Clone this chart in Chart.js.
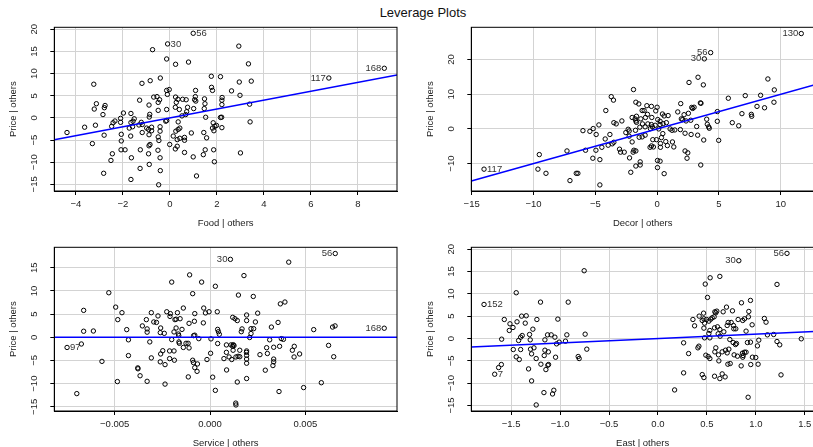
<!DOCTYPE html>
<html>
<head>
<meta charset="utf-8">
<script src="https://cdn.jsdelivr.net/npm/chart.js@4.4.0/dist/chart.umd.min.js"></script>
<style>
html, body { margin: 0; padding: 0; background: #fff; overflow: hidden; width: 813px; height: 447px; }
#title { position: absolute; left: 0; top: 5px; width: 846px; text-align: center;
  font: 13px "Liberation Sans", Arial, sans-serif; line-height: 16px; color: #111; }
canvas { position: absolute; }
</style>
</head>
<body>
<div id="title">Leverage Plots</div>
<canvas id="food" width="416" height="233" style="left:0;top:0"></canvas>
<canvas id="decor" width="416" height="233" style="left:417px;top:0"></canvas>
<canvas id="service" width="416" height="233" style="left:0;top:220px"></canvas>
<canvas id="east" width="416" height="233" style="left:417px;top:220px"></canvas>
<script>
// Food | others vs Price | others
const foodX = [-0.74,2.93,-0.14,0.79,0.24,3.34,-3.24,-1.19,-0.84,-0.41,
  1.76,2.15,2.95,3.46,1.77,1.81,2.62,1.09,-0.14,-0.03,
  -0.11,2.98,-0.69,-0.55,-1.29,-0.44,0.24,0.54,0.69,1.08,
  1.05,1.1,1.47,2.22,2.21,-3.13,-2.76,-2.79,-3.22,-2.85,
  -0.5,-0.89,-0.5,-0.14,0.27,0.34,0.23,0.4,0.75,1.01,
  1.49,1.46,2.21,3.39,0.51,0.67,0.71,1.52,2.15,2.2,
  -1.98,-1.66,-2.1,-1.52,-0.88,-0.86,-2.34,-2.42,-2.1,-1.66,
  -1.57,-1.22,-1.18,-1.32,-3.63,-3.17,-2.48,-1.73,-1.59,-0.99,
  -0.91,-0.78,-0.42,-0.18,-0.14,0.35,0.42,0.35,0.25,-0.42,
  -0.78,-4.38,-2.8,-2.07,-1.67,-1.18,-0.89,-0.5,-0.47,0.14,
  0.31,0.42,0.62,0.62,0.91,1.44,1.56,1.84,1.91,1.81,
  1.98,1.87,2.21,3.41,-3.3,-2.07,-0.01,-0.85,-0.89,-2.45,
  -2.08,-1.91,-1.26,-0.51,-0.91,-0.42,-1.64,-2.51,0.23,0.31,
  0.62,0.99,1.5,1.86,1.42,1.89,3.0,-0.88,-2.82,-1.27,
  -0.41,1.13,-1.66,-0.48];
const foodPrice = [15.4,16.2,13.3,12.6,12.1,12.2,7.6,7.8,8.4,9.0,
  9.4,9.3,8.1,8.3,6.9,6.2,6.1,6.2,6.2,6.4,
  5.3,5.1,4.7,4.8,4.0,4.1,4.7,4.2,4.1,4.8,
  4.1,3.8,4.3,4.6,4.0,3.2,2.8,2.3,2.0,0.75,
  3.5,2.9,1.7,1.9,3.5,4.2,2.4,1.9,2.4,2.1,
  3.2,2.1,3.0,3.1,0.45,0.75,1.4,0.15,0.1,0.15,
  1.1,1.0,-0.1,-0.2,0.2,0.8,-0.7,-1.1,-1.0,-1.05,
  -0.75,-1.0,-1.5,-1.6,-2.1,-1.65,-1.9,-2.3,-2.0,-2.3,
  -2.6,-2.1,-2.0,-0.75,-0.6,-0.9,-2.3,-2.6,-3.0,-3.0,
  -2.9,-3.3,-3.9,-3.7,-4.1,-3.3,-3.8,-4.3,-5.1,-4.1,
  -4.9,-4.6,-4.4,-5.05,-3.4,-3.3,-4.5,-1.1,-1.9,-2.3,
  -1.7,-2.9,-2.2,-0.9,-5.8,-5.2,-6.0,-6.0,-6.3,-8.1,
  -7.2,-7.2,-7.2,-7.3,-8.1,-9.0,-9.0,-9.6,-7.0,-6.4,
  -7.8,-8.8,-7.2,-7.2,-8.3,-9.9,-7.9,-10.5,-12.5,-11.4,
  -11.9,-13.1,-13.9,-15.1];
const foodIds = ['56','30','168','117'];
const foodIdX = [0.99,-0.1,9.12,6.76];
const foodIdPrice = [19.1,16.7,11.2,9.0];

// Decor | others
const decorX = [8.96,3.31,2.58,3.74,9.48,-1.91,5.76,7.13,8.37,9.45,
  8.08,8.69,-3.71,-3.53,-1.72,-1.48,1.91,2.8,2.99,2.88,
  3.5,3.55,4.87,-0.83,-0.46,0,-0.11,-4.15,-1.21,-1.05,
  1.67,2.18,2.53,0.43,0.57,0.89,-0.78,-0.43,-1.67,-2.02,
  -1.78,-1.32,-0.94,-2.85,-1.72,-1.67,0.05,0.24,1.96,2.07,
  2.34,2.72,4.01,4.87,6.08,6.86,7.62,7.65,6.6,-3.5,
  -3.31,-4.71,-1.18,-0.75,-0.46,-0.16,0.24,0.75,0.48,4.06,
  4.17,4.22,3.2,-6.0,-5.44,-5.17,-4.93,-3.82,-1.4,-0.97,
  -0.54,-0.38,0.13,-2.34,-2.26,-2.53,-1.75,1.21,1.43,1.88,
  1.05,2.26,2.75,3.28,-4.2,-4.47,-3.96,-3.63,-3.5,-2.26,
  -2.02,-1.45,-1.21,-0.97,-0.35,-0.05,0.35,0.46,0.7,1.24,
  0.27,0.83,0.27,-0.46,-0.57,-0.3,1.35,3.77,4.98,-9.53,
  -7.29,-5.79,-4.95,-3.04,-2.96,-2.66,-1.88,-1.72,-1.94,2.26,
  2.48,2.42,-5.2,-4.63,-2.23,-1.37,-1.37,-1.72,0.03,0.24,
  0.03,3.53,-9.64,-8.99,-6.54,-6.41,-2.13,0.57,-7.05,-4.63];
const decorPrice = [14.4,14.9,13.4,12.7,11.25,11.35,8.85,9.6,9.7,7.7,
  6.5,6.1,9.3,8.3,7.7,7.2,7.3,6.2,6.25,5.9,
  7.5,7.4,5.0,6.7,6.5,6.25,5.2,5.3,5.3,5.3,
  4.9,4.1,4.5,4.3,3.75,3.85,4.2,3.3,3.65,3.3,
  2.9,2.9,3.3,2.3,2.3,1.9,2.7,2.2,2.9,2.7,
  2.3,2.5,2.8,2.2,1.8,4.4,4.2,3.65,0.9,1.8,
  1.45,1.15,1.45,1.45,1.25,1.05,1.25,1.8,1.5,1.35,
  0.6,0.2,0.7,-0.5,-0.7,0.1,-1.6,-1.6,0.5,0.6,
  0.1,0.6,0,-0.1,-0.6,-1.05,-0.4,-0.4,-0.3,-0.2,
  0,-1.25,-1.6,-1.8,-2.9,-5.3,-4.7,-4.3,-3.85,-2.1,
  -3.75,-2.4,-2.3,-1.8,-3.1,-3.1,-2.5,-1.35,-3.65,-3.75,
  -4.2,-4.8,-5.3,-4.9,-5.3,-5.2,-5.2,-3.2,-3.3,-7.4,
  -6.35,-6.15,-6.15,-5.85,-6.7,-6.7,-6.15,-6.35,-6.7,-6.35,
  -6.9,-8.45,-8.45,-8.85,-8.35,-9.5,-10.4,-10.7,-9.1,-9.3,
  -11.15,-10.4,-11.6,-12.8,-12.8,-12.8,-12.5,-12.9,-14.9,-16.15];
const decorIds = ['130','56','30','117'];
const decorIdX = [11.66,4.33,3.82,-14.0];
const decorIdPrice = [27.5,22.0,20.2,-11.6];

// Service | others
const serviceX = [0.00413,-0.00107,0.00178,-0.00201,-0.00044,0.00028,-0.00531,-0.00091,0.00149,0.00227,
  0.00393,0.00369,-0.00495,-0.00663,-0.00462,-0.00308,-0.00227,-0.00208,-0.00171,-0.0008,
  -0.00033,-0.00024,-0.00005,0.00038,-0.0014,-0.00484,-0.00334,-0.00295,-0.00281,-0.00273,
  -0.0021,-0.00184,-0.00178,-0.00157,-0.0011,-0.00082,-0.00035,0.00119,0.00131,0.00143,
  0.00192,0.00192,0.0025,0.00238,0.00357,0.00322,-0.00355,-0.0033,-0.0033,-0.00437,
  -0.00259,-0.00261,-0.0024,-0.00178,-0.00189,-0.00147,-0.00166,-0.00164,-0.00086,-0.00059,
  0.0004,0.00044,0.00049,0.00168,0.00164,0.00215,0.00215,0.00229,0.00208,-0.00663,
  -0.00612,0.00544,0.00643,0.00656,-0.00675,-0.00567,-0.00428,-0.00428,-0.00316,-0.00308,
  -0.00379,-0.00378,-0.00367,-0.0033,-0.00486,-0.00699,-0.00259,-0.00248,-0.00261,-0.00236,
  -0.00236,-0.00201,-0.00212,-0.00189,-0.00212,-0.00187,-0.00163,-0.00161,-0.0014,-0.00126,
  -0.00115,-0.0011,-0.00114,-0.00091,-0.00087,-0.0008,-0.00068,-0.00066,-0.0008,-0.00016,
  0.00003,0.00005,0.00014,0.00028,0.0004,0.00073,0.00086,0.00086,0.00087,0.001,
  0.0011,0.00114,0.00119,0.00122,0.00121,0.00126,0.00136,0.00147,0.00156,0.00143,
  0.00135,0.00136,0.00156,0.00191,0.00192,0.00192,0.00192,0.00192,0.00192,0.00262,
  0.0029,0.00301,0.00297,0.00313,0.00334,0.00334,0.00334,0.0033,0.00365,0.00374,
  0.00385,0.00362,0.00432,0.00442,0.00441,0.0047,0.00491,0.00584,0.00622,0.00649];
const servicePrice = [16.2,13.45,13.3,11.9,11.9,11.0,9.6,9.4,9.1,8.8,
  7.6,7.2,6.5,5.8,5.3,5.3,5.5,5.1,5.3,5.1,
  6.3,5.25,5.5,5.5,6.3,3.8,3.8,3.3,3.2,4.6,
  4.5,3.8,3.9,4.0,3.0,3.45,3.1,4.3,4.0,3.6,
  4.8,3.6,5.2,3.3,3.2,2.2,2.45,1.8,1.1,1.65,
  2.0,1.0,0.85,2.0,1.15,1.7,0.7,0.35,0.35,-0.3,
  1.7,1.2,0.65,1.8,1.2,1.85,0.8,1.85,-0.05,1.3,
  1.35,1.65,2.2,2.45,-1.45,-5.2,-0.55,-3.95,-1.0,-4.45,
  -6.6,-6.8,-8.3,-9.5,-9.55,-12.15,-3.6,-2.9,-5.3,-5.9,
  -10.1,-0.5,-2.95,-2.95,-4.6,-4.95,-1.0,-1.3,-2.2,-1.3,
  -1.3,-2.3,-8.55,-4.95,-5.45,-6.55,-7.35,-5.75,0.45,-4.8,
  -3.45,-0.35,-8.6,-11.45,-1.35,-4.6,-1.65,-3.25,-7.05,-4.25,
  -1.65,-4.8,-1.95,-1.6,-2.8,-1.8,-4.25,-4.1,-4.2,-9.65,
  -14.2,-14.6,-2.8,-3.25,-2.95,-3.9,-4.7,-5.6,-8.9,-3.75,
  -7.1,-3.5,-2.25,-0.55,-2.15,-4.7,-5.3,-6.1,-1.95,-0.3,
  -0.45,-11.7,-2.8,-1.95,-4.25,-3.6,-10.85,-9.8,-1.75,-4.2];
const serviceIds = ['30','56','168','97'];
const serviceIdX = [0.00107,0.00657,0.00914,-0.0075];
const serviceIdPrice = [16.8,18.06,1.95,-2.2];

// East | others
const eastX = [-0.754,0.632,0.533,0.483,1.216,-1.448,-1.2,-0.917,0.506,0.945,
  0.853,0.7,0.761,0.581,0.601,0.666,0.928,0.466,-1.393,-1.346,
  -1.57,-1.237,-1.023,-1.44,-1.356,-1.512,-1.481,-1.519,-1.278,-1.312,
  -1.387,-1.403,-1.424,-1.597,-1.305,-1.155,-0.931,-1.128,-1.091,-1.053,
  -1.036,-0.945,-1.009,-0.744,-0.727,-1.478,-1.403,-1.302,-1.267,-1.291,
  -1.155,-1.12,-1.162,-1.448,-1.417,-1.244,-1.046,-1.196,-1.118,-1.125,
  -1.145,-1.322,-1.6,-1.628,-1.291,-1.165,-1.077,-1.064,-1.244,-0.815,
  -0.805,0.17,0.262,0.262,0.313,0.418,0.452,0.469,0.357,0.374,
  0.421,0.452,0.469,0.496,0.476,0.52,0.54,0.469,0.52,0.53,
  0.476,0.53,0.554,0.574,0.591,0.608,0.578,0.632,0.673,0.635,
  0.615,0.707,0.717,0.748,0.771,0.775,0.795,0.819,0.866,0.884,
  0.924,0.962,0.9,1.087,1.104,1.118,1.182,0.734,0.802,0.792,
  0.768,0.914,0.945,1.03,1.016,1.216,1.244,1.464,0.408,0.591,
  0.581,0.618,0.656,0.69,0.707,0.724,0.489,0.513,0.53,0.622,
  0.778,0.812,0.863,0.884,0.9,0.866,0.87,0.965,0.999,0.714,
  0.738,0.85,0.948,1.023,0.578,0.656,0.686,0.632,1.257,0.921];
const eastPrice = [15.18,13.91,13.6,12.19,12.12,10.25,8.15,8.15,9.2,8.53,
  8.0,7.03,6.2,5.98,6.13,5.98,6.06,5.68,5.01,5.09,
  4.26,4.26,4.34,3.74,3.44,3.29,2.47,1.8,2.09,0.9,
  0.67,0.3,-0.45,-0.15,-0.3,-0.3,0.82,0.82,0.82,0.3,
  -1.2,-0.6,-0.82,0.97,-2.39,-2.47,-2.47,-2.39,-2.09,-3.44,
  -2.62,-2.99,-3.81,-4.11,-4.71,-4.49,-4.19,-5.76,-5.83,-5.98,
  -6.96,-6.81,-5.83,-6.51,-9.5,-12.12,-12.42,-11.59,-14.88,-4.04,
  -4.49,-11.52,-7.7,-0.97,-3.37,-1.72,-8.08,-8.75,4.26,2.84,
  5.01,4.04,4.41,4.26,3.44,3.89,4.34,2.32,1.12,1.8,
  0.15,0.15,4.64,4.86,5.76,2.62,2.39,2.02,1.5,0.52,
  1.05,2.92,3.59,3.59,2.92,2.17,2.17,4.26,4.04,4.41,
  4.86,3.07,1.65,4.49,3.66,0.82,0.9,-0.22,-1.12,-1.35,
  -0.9,-0.9,-0.82,-0.37,-1.65,-0.67,-1.42,-0.07,-2.09,-2.09,
  -2.99,-3.66,-2.99,-2.62,-3.22,-2.39,-3.74,-4.04,-4.49,-5.01,
  -3.66,-3.96,-3.29,-3.07,-3.07,-4.19,-3.81,-4.19,-4.26,-5.76,
  -5.61,-6.13,-5.83,-5.76,-8.45,-7.93,-8.6,-8.98,-8.15,-13.16];
const eastIds = ['56','30','152','7'];
const eastIdX = [1.318,0.826,-1.777,-1.668];
const eastIdPrice = [19.07,17.43,7.63,-8.0];

// slope of each leverage line (through the origin)
const fitSlope = [1, 1, 1, 1];

// axis ticks
const foodTicks = [-4, -2, 0, 2, 4, 6, 8];
const decorTicks = [-15, -10, -5, 0, 5, 10];
const serviceTicks = [-0.005, 0, 0.005];
const serviceTickLabels = ['-0.005', '0.000', '0.005'];
const eastTicks = [-1.5, -1, -0.5, 0, 0.5, 1, 1.5];
const eastTickLabels = ['-1.5', '-1.0', '-0.5', '0.0', '0.5', '1.0', '1.5'];
const priceTicks = [-15, -10, -5, 0, 5, 10, 15, 20];
const decorPriceTicks = [-10, 0, 10, 20];
const servicePriceTicks = [-15, -10, -5, 0, 5, 10, 15];

Chart.defaults.font.family = '"Liberation Sans", Arial, sans-serif';
Chart.defaults.font.size = 9.5;
Chart.defaults.color = '#222';

const minus = s => String(s).replace('-', '\u2212');

// draws the closed box and the point ids
const boxAndIds = {
  id: 'boxAndIds',
  afterDatasetsDraw(chart, args, opts) {
    const { ctx, chartArea: a } = chart;
    ctx.save();
    ctx.strokeStyle = '#000';
    ctx.lineWidth = 1;
    ctx.strokeRect(a.left, a.top, a.right - a.left, a.bottom - a.top);
    const meta = chart.getDatasetMeta(1);
    ctx.font = '9.5px "Liberation Sans", Arial, sans-serif';
    ctx.fillStyle = '#333';
    ctx.textBaseline = 'middle';
    opts.ids.forEach((id, i) => {
      const p = meta.data[i];
      const left = opts.sides[i] === 'left';
      ctx.textAlign = left ? 'right' : 'left';
      ctx.fillText(id, p.x + (left ? -3 : 3), p.y);
    });
    ctx.restore();
  }
};

function panel(id, p) {
  const pts = {
    type: 'scatter', pointRadius: 2.2, pointHoverRadius: 2.2, borderWidth: 1,
    borderColor: '#000', backgroundColor: 'rgba(0,0,0,0)', order: 1
  };
  const grid = { color: '#d3d3d3', lineWidth: 1, tickColor: '#000', tickLength: 4, drawTicks: true };
  new Chart(document.getElementById(id), {
    type: 'scatter',
    data: {
      datasets: [
        Object.assign({ data: p.x.map((v, i) => ({ x: v, y: p.y[i] })) }, pts),
        Object.assign({ data: p.idX.map((v, i) => ({ x: v, y: p.idY[i] })) }, pts),
        { type: 'line', order: 0, borderColor: '#0000ff', borderWidth: 1.5, pointRadius: 0,
          data: [{ x: p.xMin, y: p.slope * p.xMin }, { x: p.xMax, y: p.slope * p.xMax }] }
      ]
    },
    options: {
      responsive: false, animation: false, devicePixelRatio: 1,
      layout: { padding: { top: 27.3, right: 19, bottom: 0, left: 0 } },
      plugins: {
        legend: { display: false }, tooltip: { enabled: false },
        boxAndIds: { ids: p.ids, sides: p.sides }
      },
      scales: {
        x: {
          type: 'linear', min: p.xMin, max: p.xMax, grid, border: { color: '#000', width: 1 },
          afterBuildTicks: s => { s.ticks = p.xTicks.map(v => ({ value: v })); },
          afterFit: s => { s.height = 42; },
          ticks: { autoSkip: false, padding: 4, color: '#222',
            callback: (v, i) => minus(p.xLabels ? p.xLabels[i] : p.xTicks[i]) },
          title: { display: true, text: p.xTitle, color: '#222', padding: { top: 0, bottom: 4 } }
        },
        y: {
          type: 'linear', min: p.yMin, max: p.yMax, grid, border: { color: '#000', width: 1 },
          afterBuildTicks: s => { s.ticks = p.yTicks.map(v => ({ value: v })); },
          afterFit: s => { s.width = 54.3; },
          ticks: { autoSkip: false, padding: 8, minRotation: 90, maxRotation: 90, crossAlign: 'center',
            color: '#222', callback: (v, i) => minus(p.yTicks[i]) },
          title: { display: true, text: 'Price | others', color: '#222', padding: { top: 7.6, bottom: 0 } }
        }
      }
    },
    plugins: [boxAndIds]
  });
}

panel('food', {
  x: foodX, y: foodPrice, idX: foodIdX, idY: foodIdPrice, ids: foodIds,
  sides: ['right', 'right', 'left', 'left'], slope: fitSlope[0],
  xMin: -4.92, xMax: 9.66, yMin: -16.5, yMax: 20.45,
  xTicks: foodTicks, yTicks: priceTicks, xTitle: 'Food | others'
});
panel('decor', {
  x: decorX, y: decorPrice, idX: decorIdX, idY: decorIdPrice, ids: decorIds,
  sides: ['left', 'left', 'left', 'right'], slope: fitSlope[1],
  xMin: -15.03, xMax: 12.69, yMin: -17.9, yMax: 29.3,
  xTicks: decorTicks, yTicks: decorPriceTicks, xTitle: 'Decor | others'
});
panel('service', {
  x: serviceX, y: servicePrice, idX: serviceIdX, idY: serviceIdPrice, ids: serviceIds,
  sides: ['left', 'left', 'left', 'right'], slope: fitSlope[2],
  xMin: -0.00817, xMax: 0.00981, yMin: -15.9, yMax: 19.4,
  xTicks: serviceTicks, xLabels: serviceTickLabels, yTicks: servicePriceTicks, xTitle: 'Service | others'
});
panel('east', {
  x: eastX, y: eastPrice, idX: eastIdX, idY: eastIdPrice, ids: eastIds,
  sides: ['left', 'left', 'right', 'right'], slope: fitSlope[3],
  xMin: -1.907, xMax: 1.594, yMin: -16.24, yMax: 20.43,
  xTicks: eastTicks, xLabels: eastTickLabels, yTicks: priceTicks, xTitle: 'East | others'
});
</script>
</body>
</html>
